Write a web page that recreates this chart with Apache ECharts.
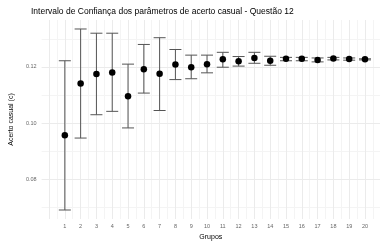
<!DOCTYPE html>
<html><head><meta charset="utf-8">
<script src="https://cdn.jsdelivr.net/npm/echarts@6/dist/echarts.min.js"></script>
<style>html,body{margin:0;padding:0;background:#fff}#c{width:380px;height:246px}</style>
</head><body><div id="c"></div>
<script>
var groups = [1,2,3,4,5,6,7,8,9,10,11,12,13,14,15,16,17,18,19,20];
var estimates = [0.0957,0.1141,0.1175,0.1180,0.1096,0.1192,0.1176,0.1209,0.1199,0.1210,0.1227,0.1220,0.1232,0.1222,0.1229,0.1229,0.1225,0.1230,0.1228,0.1227];
var lower = [0.0691,0.0947,0.1030,0.1042,0.0983,0.1107,0.1045,0.1155,0.1158,0.1179,0.1199,0.1203,0.1213,0.1206,0.1222,0.1222,0.1218,0.1225,0.1224,0.1225];
var upper = [0.1222,0.1335,0.1320,0.1320,0.1210,0.1280,0.1304,0.1262,0.1242,0.1242,0.1252,0.1237,0.1252,0.1238,0.1234,0.1234,0.1232,0.1234,0.1232,0.1229];
var yTicks = [0.08,0.10,0.12];
var yMinorTicks = [0.07,0.09,0.11,0.13];
var titleText = 'Intervalo de Confiança dos parâmetros de acerto casual - Questão 12';

var xMajor = [0].concat(groups);
var xMinor = [];
for (var i = 0; i <= 20; i++) xMinor.push(i + 0.5);

var ebData = groups.map(function(g, i){ return [g, lower[i], upper[i]]; });
var ptData = groups.map(function(g, i){ return [g, estimates[i]]; });

function mk(arr, axis, color){
  return arr.map(function(v){ var o = {}; o[axis] = v; o.lineStyle = {color: color, width: 1, type: 'solid'}; return o; });
}

var chart = echarts.init(document.getElementById('c'), null, {renderer: 'canvas'});
chart.setOption({
  animation: false,
  backgroundColor: '#fff',
  title: {
    text: titleText, left: 31, top: 7, padding: 0,
    textStyle: {fontFamily: 'Liberation Sans', fontSize: 8.5, fontWeight: 'normal', color: '#000'}
  },
  grid: {left: 31.5, right: 0, top: 20, bottom: 21, containLabel: false},
  xAxis: {
    type: 'value', min: -0.47, max: 20.95,
    name: 'Grupos', nameLocation: 'middle', nameGap: 15,
    nameTextStyle: {fontFamily: 'Liberation Sans', fontSize: 7, color: '#000'},
    axisLine: {show: false}, axisTick: {show: false}, splitLine: {show: false},
    axisLabel: {customValues: groups, margin: 4, fontFamily: 'Liberation Sans', fontSize: 5.5, color: '#666'}
  },
  yAxis: {
    type: 'value', min: 0.0659, max: 0.1367,
    name: 'Acerto casual (c)', nameLocation: 'middle', nameGap: 21, nameRotate: 90,
    nameTextStyle: {fontFamily: 'Liberation Sans', fontSize: 7, color: '#000'},
    axisLine: {show: false}, axisTick: {show: false}, splitLine: {show: false},
    axisLabel: {customValues: yTicks, margin: 5, fontFamily: 'Liberation Sans', fontSize: 5.5, color: '#666',
      formatter: function(v){ return v.toFixed(2); }}
  },
  series: [
    {
      type: 'line', data: [], silent: true, z: 0,
      markLine: {silent: true, symbol: 'none', label: {show: false}, animation: false,
        data: mk(xMinor, 'xAxis', '#f4f4f4').concat(mk(yMinorTicks, 'yAxis', '#f4f4f4'))}
    },
    {
      type: 'line', data: [], silent: true, z: 1,
      markLine: {silent: true, symbol: 'none', label: {show: false}, animation: false,
        data: mk(xMajor, 'xAxis', '#ebebeb').concat(mk(yTicks, 'yAxis', '#ebebeb'))}
    },
    {
      type: 'custom', data: ebData, z: 5,
      renderItem: function(params, api){
        var x = api.value(0), lo = api.value(1), hi = api.value(2);
        var pLo = api.coord([x, lo]), pHi = api.coord([x, hi]);
        var w = api.size([0.38, 0])[0];
        var st = {stroke: '#555', lineWidth: 1};
        return {type: 'group', children: [
          {type: 'line', shape: {x1: pLo[0], y1: pLo[1], x2: pHi[0], y2: pHi[1]}, style: st},
          {type: 'line', shape: {x1: pLo[0]-w, y1: pLo[1], x2: pLo[0]+w, y2: pLo[1]}, style: st},
          {type: 'line', shape: {x1: pHi[0]-w, y1: pHi[1], x2: pHi[0]+w, y2: pHi[1]}, style: st}
        ]};
      }
    },
    {
      type: 'scatter', data: ptData, symbol: 'circle', symbolSize: 6.5, z: 10,
      itemStyle: {color: '#000', opacity: 1}
    }
  ]
});
</script></body></html>
